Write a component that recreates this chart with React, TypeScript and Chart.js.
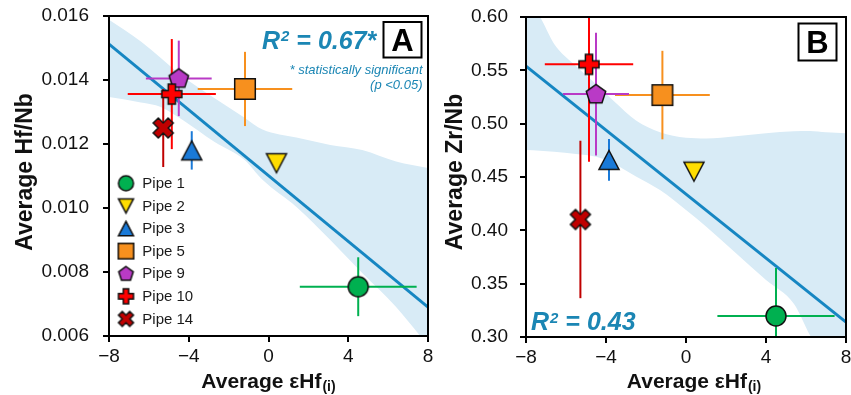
import React, { useEffect, useRef } from 'react';
import { Chart, registerables } from 'chart.js';

Chart.register(...registerables);

const FONT = "'Liberation Sans', Arial, Helvetica, sans-serif";
const TEAL = '#1b86b4';
const FIT_COLOR = '#1686c2';
const BAND_COLOR = '#d8ebf6';

// ---------- data ----------
const pipeNames = ['Pipe 1', 'Pipe 2', 'Pipe 3', 'Pipe 5', 'Pipe 9', 'Pipe 10', 'Pipe 14'];
const pipeShapes = ['circle', 'invTriangle', 'triangle', 'square', 'pentagon', 'plus', 'cross'];
const pipeColors = ['#00b050', '#ffdd00', '#1a7ad8', '#f7901e', '#b93ac6', '#ff0000', '#c00000'];

const epsHf = [4.5, 0.4, -3.85, -1.18, -4.5, -4.85, -5.28];
const epsHfErr = [2.93, 0, 0, 2.37, 1.65, 2.21, 0];

const hfNb = [0.00754, 0.0114, 0.0118, 0.01372, 0.01405, 0.01356, 0.0125];
const hfNbErr = [0.00092, 0, 0.0006, 0.00116, 0.00118, 0.00172, 0.00122];

const zrNb = [0.3197, 0.455, 0.466, 0.5268, 0.5277, 0.5556, 0.4102];
const zrNbErr = [0.045, 0, 0.0196, 0.0415, 0.0575, 0.0914, 0.0738];

const fitX = [-8, 8];
const fitHfNb = [0.01512, 0.0069];
const fitZrNb = [0.554, 0.314];

const bandHfX = [-8, -6.4, -5.4, -4.3, -2.7, -1.2, -0.3, 1.4, 3.1, 4.7, 6.4, 8];
const bandHfUpper = [0.01588, 0.0152, 0.01469, 0.01411, 0.01343, 0.01282, 0.01245, 0.0122, 0.01197, 0.01181, 0.01145, 0.01125];
const bandHfLower = [0.01347, 0.0133, 0.01316, 0.01275, 0.01206, 0.0115, 0.01088, 0.01003, 0.009, 0.00797, 0.00691, 0.0057];

const bandZrX = [-8, -7.3, -6.6, -5.5, -4.5, -3.6, -2.5, -1.3, 0, 1, 2.5, 4, 5.4, 6.2, 7, 8];
const bandZrUpper = [0.615, 0.6, 0.575, 0.554, 0.537, 0.521, 0.503, 0.492, 0.4868, 0.4862, 0.4883, 0.491, 0.4928, 0.4932, 0.492, 0.4909];
const bandZrLower = [0.4752, 0.4745, 0.4736, 0.4715, 0.469, 0.4625, 0.4505, 0.4377, 0.419, 0.4035, 0.3785, 0.3535, 0.331, 0.3016, 0.275, 0.24];

const xTickValues = [-8, -4, 0, 4, 8];
const xTickLabels = ['\u22128', '\u22124', '0', '4', '8'];
const hfTickValues = [0.006, 0.008, 0.01, 0.012, 0.014, 0.016];
const hfTickLabels = ['0.006', '0.008', '0.010', '0.012', '0.014', '0.016'];
const zrTickValues = [0.3, 0.35, 0.4, 0.45, 0.5, 0.55, 0.6];
const zrTickLabels = ['0.30', '0.35', '0.40', '0.45', '0.50', '0.55', '0.60'];

const xTitle = 'Average \u03b5Hf';
const xTitleSub = '(i)';
const hfTitle = 'Average Hf/Nb';
const zrTitle = 'Average Zr/Nb';
const r2Hf = ' = 0.67*';
const r2Zr = ' = 0.43';
const sigNote = ['* statistically significant', '(p <0.05)'];

// ---------- markers ----------
function makeMarker(shape: string, fill: string, size: number): HTMLCanvasElement {
  const dim = Math.round(size) + 6;
  const c = document.createElement('canvas');
  c.width = dim;
  c.height = dim;
  const ctx = c.getContext('2d')!;
  const cx = dim / 2;
  const cy = dim / 2;
  const r = size / 2;
  ctx.beginPath();
  if (shape === 'circle') {
    ctx.arc(cx, cy, r, 0, Math.PI * 2);
  } else if (shape === 'triangle') {
    const h = r * 0.95;
    ctx.moveTo(cx, cy - h);
    ctx.lineTo(cx + r, cy + h);
    ctx.lineTo(cx - r, cy + h);
    ctx.closePath();
  } else if (shape === 'invTriangle') {
    const h = r * 0.95;
    ctx.moveTo(cx, cy + h);
    ctx.lineTo(cx + r, cy - h);
    ctx.lineTo(cx - r, cy - h);
    ctx.closePath();
  } else if (shape === 'square') {
    const s = r * 1.03;
    ctx.rect(cx - s, cy - s, 2 * s, 2 * s);
  } else if (shape === 'pentagon') {
    const R = r * 1.02;
    for (let k = 0; k < 5; k++) {
      const a = -Math.PI / 2 + (k * 2 * Math.PI) / 5;
      const px = cx + R * Math.cos(a);
      const py = cy + R * Math.sin(a) + R * 0.05;
      if (k === 0) ctx.moveTo(px, py);
      else ctx.lineTo(px, py);
    }
    ctx.closePath();
  } else if (shape === 'plus' || shape === 'cross') {
    const a = r * 0.36;
    const R = shape === 'plus' ? r : r * Math.SQRT2 - a;
    const pts = [
      [a, -R], [a, -a], [R, -a], [R, a], [a, a], [a, R],
      [-a, R], [-a, a], [-R, a], [-R, -a], [-a, -a], [-a, -R],
    ];
    const rot = shape === 'cross' ? Math.PI / 4 : 0;
    pts.forEach(([px, py], k) => {
      const X = cx + px * Math.cos(rot) - py * Math.sin(rot);
      const Y = cy + px * Math.sin(rot) + py * Math.cos(rot);
      if (k === 0) ctx.moveTo(X, Y);
      else ctx.lineTo(X, Y);
    });
    ctx.closePath();
  }
  ctx.fillStyle = fill;
  ctx.fill();
  ctx.lineWidth = 1.5;
  ctx.lineJoin = 'miter';
  ctx.strokeStyle = '#111';
  ctx.stroke();
  return c;
}

function drawR2(ctx: CanvasRenderingContext2D, x: number, y: number, rest: string) {
  ctx.save();
  ctx.fillStyle = TEAL;
  ctx.textAlign = 'left';
  ctx.textBaseline = 'alphabetic';
  ctx.font = `italic bold 25px ${FONT}`;
  ctx.fillText('R', x, y);
  const w1 = ctx.measureText('R').width;
  ctx.font = `italic bold 15px ${FONT}`;
  ctx.fillText('2', x + w1 + 1, y - 7.5);
  const w2 = ctx.measureText('2').width;
  ctx.font = `italic bold 25px ${FONT}`;
  ctx.fillText(rest, x + w1 + 1 + w2, y);
  ctx.restore();
}

function drawBoxLetter(ctx: CanvasRenderingContext2D, x: number, y: number, w: number, h: number, letter: string) {
  ctx.save();
  ctx.fillStyle = '#fff';
  ctx.fillRect(x, y, w, h);
  ctx.strokeStyle = '#000';
  ctx.lineWidth = 2;
  ctx.strokeRect(x, y, w, h);
  ctx.fillStyle = '#000';
  ctx.font = `bold 31px ${FONT}`;
  ctx.textAlign = 'center';
  ctx.textBaseline = 'alphabetic';
  ctx.fillText(letter, x + w / 2, y + h / 2 + 11);
  ctx.restore();
}

type Panel = {
  key: string;
  y: number[];
  yErr: number[];
  fitY: number[];
  bandX: number[];
  bandUpper: number[];
  bandLower: number[];
  yTicks: number[];
  yTickLabels: string[];
  yMin: number;
  yMax: number;
  yTitle: string;
  padTop: number;
  padRight: number;
  yAxisW: number;
  xAxisH: number;
  yTickPad: number;
  xTitleShift: number;
};

const panelA: Panel = {
  key: 'A', y: hfNb, yErr: hfNbErr, fitY: fitHfNb,
  bandX: bandHfX, bandUpper: bandHfUpper, bandLower: bandHfLower,
  yTicks: hfTickValues, yTickLabels: hfTickLabels, yMin: 0.006, yMax: 0.016, yTitle: hfTitle,
  padTop: 16, padRight: 12, yAxisW: 109, xAxisH: 59, yTickPad: 14, xTitleShift: 0,
};

const panelB: Panel = {
  key: 'B', y: zrNb, yErr: zrNbErr, fitY: fitZrNb,
  bandX: bandZrX, bandUpper: bandZrUpper, bandLower: bandZrLower,
  yTicks: zrTickValues, yTickLabels: zrTickLabels, yMin: 0.3, yMax: 0.6, yTitle: zrTitle,
  padTop: 17, padRight: 5, yAxisW: 96, xAxisH: 58, yTickPad: 12, xTitleShift: 8,
};

function buildChart(canvas: HTMLCanvasElement, p: Panel): Chart {
  const markers = pipeShapes.map((s, i) => makeMarker(s, pipeColors[i], 20));
  const legendMarkers = pipeShapes.map((s, i) => makeMarker(s, pipeColors[i], 15));

  const datasets: any[] = [
    {
      type: 'line',
      data: p.bandX.map((x, i) => ({ x, y: p.bandLower[i] })),
      borderColor: 'rgba(0,0,0,0)', borderWidth: 0, pointRadius: 0, fill: false,
      cubicInterpolationMode: 'monotone', order: 20,
    },
    {
      type: 'line',
      data: p.bandX.map((x, i) => ({ x, y: p.bandUpper[i] })),
      borderColor: 'rgba(0,0,0,0)', borderWidth: 0, pointRadius: 0, fill: '-1',
      backgroundColor: BAND_COLOR, cubicInterpolationMode: 'monotone', order: 20,
    },
    {
      type: 'line',
      data: fitX.map((x, i) => ({ x, y: p.fitY[i] })),
      borderColor: FIT_COLOR, borderWidth: 3, pointRadius: 0, fill: false, order: 10,
    },
    ...pipeNames.map((name, i) => ({
      type: 'scatter',
      label: name,
      data: [{ x: epsHf[i], y: p.y[i] }],
      pointStyle: markers[i],
      pointRadius: 10,
      order: 7 - i,
    })),
  ];

  const decor = {
    id: 'decor' + p.key,
    afterDatasetDraw(chart: any, args: any) {
      if (args.index !== 2) return;
      const { ctx, chartArea: a } = chart;
      const xs = chart.scales.x;
      const ys = chart.scales.y;
      ctx.save();
      ctx.beginPath();
      ctx.rect(a.left, a.top, a.right - a.left, a.bottom - a.top);
      ctx.clip();
      ctx.lineWidth = 2;
      pipeNames.forEach((_n, i) => {
        const px = xs.getPixelForValue(epsHf[i]);
        const py = ys.getPixelForValue(p.y[i]);
        ctx.strokeStyle = pipeColors[i];
        if (epsHfErr[i] > 0) {
          ctx.beginPath();
          ctx.moveTo(xs.getPixelForValue(epsHf[i] - epsHfErr[i]), py);
          ctx.lineTo(xs.getPixelForValue(epsHf[i] + epsHfErr[i]), py);
          ctx.stroke();
        }
        if (p.yErr[i] > 0) {
          ctx.beginPath();
          ctx.moveTo(px, ys.getPixelForValue(p.y[i] - p.yErr[i]));
          ctx.lineTo(px, ys.getPixelForValue(p.y[i] + p.yErr[i]));
          ctx.stroke();
        }
      });
      ctx.restore();
    },
    afterDatasetsDraw(chart: any) {
      const { ctx, chartArea: a } = chart;
      ctx.save();
      ctx.strokeStyle = '#000';
      ctx.lineWidth = 2;
      ctx.strokeRect(a.left, a.top, a.right - a.left, a.bottom - a.top);
      ctx.restore();
    },
    afterDraw(chart: any) {
      const { ctx, chartArea: a } = chart;
      ctx.save();
      // x title
      ctx.fillStyle = '#111';
      ctx.font = `bold 21px ${FONT}`;
      const w1 = ctx.measureText(xTitle).width;
      ctx.font = `bold 14px ${FONT}`;
      const w2 = ctx.measureText(xTitleSub).width;
      const cx = (a.left + a.right) / 2 + p.xTitleShift;
      const sx = cx - (w1 + w2 + 1) / 2;
      ctx.textAlign = 'left';
      ctx.textBaseline = 'alphabetic';
      ctx.font = `bold 21px ${FONT}`;
      ctx.fillText(xTitle, sx, 388);
      ctx.font = `bold 14px ${FONT}`;
      ctx.fillText(xTitleSub, sx + w1 + 1, 391);
      // y title
      ctx.save();
      ctx.translate(31.5, 172);
      ctx.rotate(-Math.PI / 2);
      ctx.textAlign = 'center';
      ctx.font = `bold 23px ${FONT}`;
      ctx.fillText(p.yTitle, 0, 0);
      ctx.restore();

      if (p.key === 'A') {
        drawR2(ctx, 262, 48.5, r2Hf);
        drawBoxLetter(ctx, 383.5, 22, 38, 35.5, 'A');
        ctx.fillStyle = TEAL;
        ctx.font = `italic 13px ${FONT}`;
        ctx.textAlign = 'right';
        ctx.fillText(sigNote[0], 422.5, 74);
        ctx.fillText(sigNote[1], 422.5, 89);
        // legend
        ctx.textAlign = 'left';
        ctx.textBaseline = 'middle';
        ctx.font = `15px ${FONT}`;
        ctx.fillStyle = '#1a1a1a';
        pipeNames.forEach((name, i) => {
          const ly = 183.3 + i * 22.6;
          const m = legendMarkers[i];
          ctx.drawImage(m, 126 - m.width / 2, ly - m.height / 2);
          ctx.fillText(name, 142.3, ly + 0.5);
        });
      } else {
        drawR2(ctx, 101, 330, r2Zr);
        drawBoxLetter(ctx, 368.5, 23.5, 38, 37, 'B');
      }
      ctx.restore();
    },
  };

  return new Chart(canvas, {
    type: 'scatter',
    data: { datasets },
    options: {
      responsive: false,
      animation: false,
      devicePixelRatio: 1,
      events: [],
      layout: {
        autoPadding: false,
        padding: { left: 0, right: p.padRight, top: p.padTop, bottom: 0 },
      },
      plugins: {
        legend: { display: false },
        tooltip: { enabled: false },
      },
      scales: {
        x: {
          type: 'linear',
          min: -8,
          max: 8,
          afterBuildTicks: (s: any) => {
            s.ticks = xTickValues.map((v) => ({ value: v }));
          },
          afterFit: (s: any) => {
            s.height = p.xAxisH;
            s.paddingLeft = 0;
            s.paddingRight = 0;
          },
          ticks: {
            callback: (_v: any, i: number) => xTickLabels[i],
            font: { size: 19, family: FONT },
            color: '#111',
            padding: 3,
            maxRotation: 0,
            autoSkip: false,
          },
          grid: {
            display: true, drawOnChartArea: false, drawTicks: true, tickLength: 6,
            color: '#000', tickColor: '#000', lineWidth: 2, tickWidth: 2,
          },
          border: { display: false },
          title: { display: false },
        },
        y: {
          type: 'linear',
          min: p.yMin,
          max: p.yMax,
          afterBuildTicks: (s: any) => {
            s.ticks = p.yTicks.map((v) => ({ value: v }));
          },
          afterFit: (s: any) => {
            s.width = p.yAxisW;
            s.paddingTop = 0;
            s.paddingBottom = 0;
          },
          ticks: {
            callback: (_v: any, i: number) => p.yTickLabels[i],
            font: { size: 19, family: FONT },
            color: '#111',
            padding: p.yTickPad,
            autoSkip: false,
          },
          grid: {
            display: true, drawOnChartArea: false, drawTicks: true, tickLength: 6,
            color: '#000', tickColor: '#000', lineWidth: 2, tickWidth: 2,
          },
          border: { display: false },
          title: { display: false },
        },
      },
    } as any,
    plugins: [decor as any],
  } as any);
}

export default function App() {
  const leftRef = useRef<HTMLCanvasElement>(null);
  const rightRef = useRef<HTMLCanvasElement>(null);

  useEffect(() => {
    const c1 = buildChart(leftRef.current!, panelA);
    const c2 = buildChart(rightRef.current!, panelB);
    return () => {
      c1.destroy();
      c2.destroy();
    };
  }, []);

  return (
    <div style={{ position: 'absolute', left: 0, top: 0, width: 851, height: 395, background: '#fff', overflow: 'hidden' }}>
      <canvas ref={leftRef} width={440} height={395} style={{ position: 'absolute', left: 0, top: 0, width: 440, height: 395 }} />
      <canvas ref={rightRef} width={421} height={395} style={{ position: 'absolute', left: 430, top: 0, width: 421, height: 395 }} />
    </div>
  );
}
